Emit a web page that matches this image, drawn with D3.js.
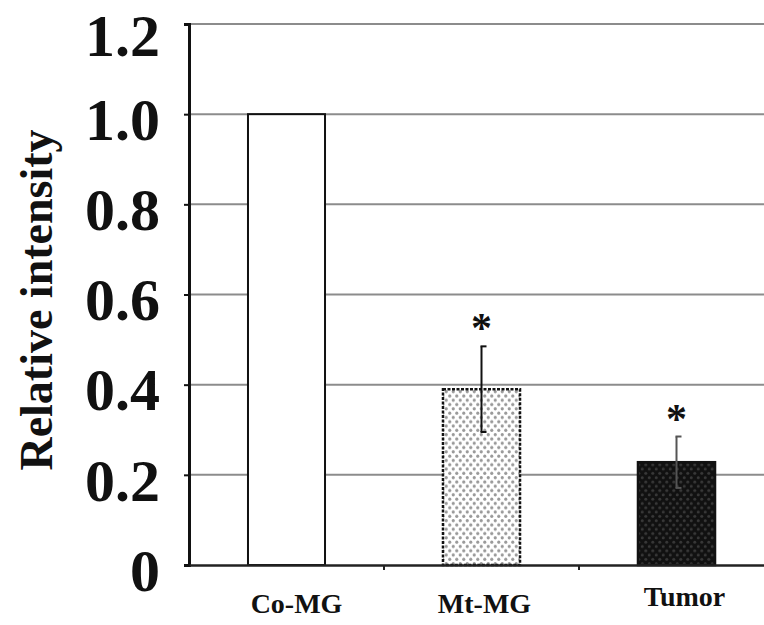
<!DOCTYPE html>
<html>
<head>
<meta charset="utf-8">
<script src="https://cdn.jsdelivr.net/npm/d3@7/dist/d3.min.js"></script>
<style>
  html, body { margin: 0; padding: 0; background: #fff; }
  svg { display: block; }
</style>
</head>
<body>
<div id="chart"></div>
<script>
// data
const groups = ['Co-MG', 'Mt-MG', 'Tumor'];
const values = [1.0, 0.39, 0.228];
const errors = [0, 0.095, 0.057];
const significant = [false, true, true];
const yTicks = [0, 0.2, 0.4, 0.6, 0.8, 1.0, 1.2];
const yTickLabels = ['0', '0.2', '0.4', '0.6', '0.8', '1.0', '1.2'];

const W = 764, H = 625;
const margin = { top: 24, right: -10, bottom: 60, left: 189 };
const width = W - margin.left - margin.right;
const height = H - margin.top - margin.bottom;
const serif = '"Liberation Serif", "Times New Roman", serif';

const svg = d3.select('#chart')
  .append('svg')
  .attr('width', W)
  .attr('height', H);

// fill patterns for the two dotted bars
const defs = svg.append('defs');
const light = defs.append('pattern')
  .attr('id', 'dotsLight')
  .attr('patternUnits', 'userSpaceOnUse')
  .attr('width', 7).attr('height', 8.6);
light.append('rect').attr('width', 7).attr('height', 8.6).attr('fill', '#fff');
light.append('circle').attr('cx', 1.75).attr('cy', 2.15).attr('r', 1.6).attr('fill', '#999');
light.append('circle').attr('cx', 5.25).attr('cy', 6.45).attr('r', 1.6).attr('fill', '#999');

const dark = defs.append('pattern')
  .attr('id', 'dotsDark')
  .attr('patternUnits', 'userSpaceOnUse')
  .attr('width', 7).attr('height', 8.6);
dark.append('rect').attr('width', 7).attr('height', 8.6).attr('fill', '#111');
dark.append('circle').attr('cx', 1.75).attr('cy', 2.15).attr('r', 1.5).attr('fill', '#383838');
dark.append('circle').attr('cx', 5.25).attr('cy', 6.45).attr('r', 1.5).attr('fill', '#383838');

const fills = ['#fff', 'url(#dotsLight)', 'url(#dotsDark)'];

const g = svg.append('g')
  .attr('transform', `translate(${margin.left},${margin.top})`);

const x = d3.scaleBand()
  .domain(groups)
  .range([0, width])
  .paddingInner(0.605)
  .paddingOuter(0.3025);

const y = d3.scaleLinear()
  .domain([0, 1.2])
  .range([height, 0]);

// horizontal gridlines
g.append('g')
  .selectAll('line')
  .data(yTicks.filter(d => d > 0))
  .enter().append('line')
  .attr('x1', 0)
  .attr('x2', width)
  .attr('y1', d => y(d))
  .attr('y2', d => y(d))
  .attr('stroke', '#8c8c8c')
  .attr('stroke-width', 2);

// bars
g.selectAll('.bar')
  .data(values)
  .enter().append('rect')
  .attr('class', 'bar')
  .attr('x', (d, i) => x(groups[i]))
  .attr('y', d => y(d))
  .attr('width', x.bandwidth())
  .attr('height', d => height - y(d))
  .attr('fill', (d, i) => fills[i])
  .attr('stroke', '#111')
  .attr('stroke-width', (d, i) => i === 0 ? 2 : 2.5)
  .attr('stroke-dasharray', (d, i) => i === 1 ? '3,1.5' : null);

// error bars
const errG = g.append('g');
values.forEach((v, i) => {
  if (!errors[i]) return;
  const cx = x(groups[i]) + x.bandwidth() / 2;
  const col = i === 2 ? '#555' : '#111';
  errG.append('line')
    .attr('x1', cx).attr('x2', cx)
    .attr('y1', y(v + errors[i])).attr('y2', y(v - errors[i]))
    .attr('stroke', col)
    .attr('stroke-width', 2);
  [v + errors[i], v - errors[i]].forEach(e => {
    errG.append('line')
      .attr('x1', cx - 1).attr('x2', cx + 5)
      .attr('y1', y(e)).attr('y2', y(e))
      .attr('stroke', col)
      .attr('stroke-width', 2);
  });
});

// significance asterisks
values.forEach((v, i) => {
  if (!significant[i]) return;
  g.append('text')
    .attr('x', x(groups[i]) + x.bandwidth() / 2)
    .attr('y', y(v + errors[i]) - 4)
    .attr('text-anchor', 'middle')
    .attr('font-family', serif)
    .attr('font-weight', 'bold')
    .attr('font-size', 42)
    .attr('fill', '#111')
    .text('*');
});

// y axis
const yAxis = g.append('g')
  .call(d3.axisLeft(y)
    .tickValues(yTicks)
    .tickFormat((d, i) => yTickLabels[i])
    .tickSize(5)
    .tickPadding(24));
yAxis.select('.domain').attr('stroke', '#111').attr('stroke-width', 3);
yAxis.selectAll('.tick line').attr('stroke', '#111').attr('stroke-width', 2);
yAxis.selectAll('.tick text')
  .attr('font-family', serif)
  .attr('font-weight', 'bold')
  .attr('font-size', 60)
  .attr('fill', '#111')
  .attr('dy', d => d === 1.2 ? '0.52em' : '0.42em');

// x axis
const xAxis = g.append('g')
  .attr('transform', `translate(0,${height})`)
  .call(d3.axisBottom(x).tickSize(0).tickPadding(26));
xAxis.select('.domain').attr('stroke', '#222').attr('stroke-width', 2.5);
xAxis.selectAll('.tick text')
  .attr('font-family', serif)
  .attr('font-weight', 'bold')
  .attr('font-size', 28)
  .attr('fill', '#111')
  .attr('dx', (d, i) => [10, 3, 8][i])
  .attr('dy', (d, i) => i === 2 ? '0.55em' : '0.8em');

// small ticks on the x axis between groups
g.append('g')
  .selectAll('line')
  .data(groups.slice(1))
  .enter().append('line')
  .attr('x1', d => x(d) - x.step() * x.paddingInner() / 2)
  .attr('x2', d => x(d) - x.step() * x.paddingInner() / 2)
  .attr('y1', height)
  .attr('y2', height + 5)
  .attr('stroke', '#222')
  .attr('stroke-width', 2);

// y axis title
svg.append('text')
  .attr('transform', `translate(52,300) rotate(-90)`)
  .attr('text-anchor', 'middle')
  .attr('font-family', serif)
  .attr('font-weight', 'bold')
  .attr('font-size', 46)
  .attr('fill', '#111')
  .text('Relative intensity');
</script>
</body>
</html>
